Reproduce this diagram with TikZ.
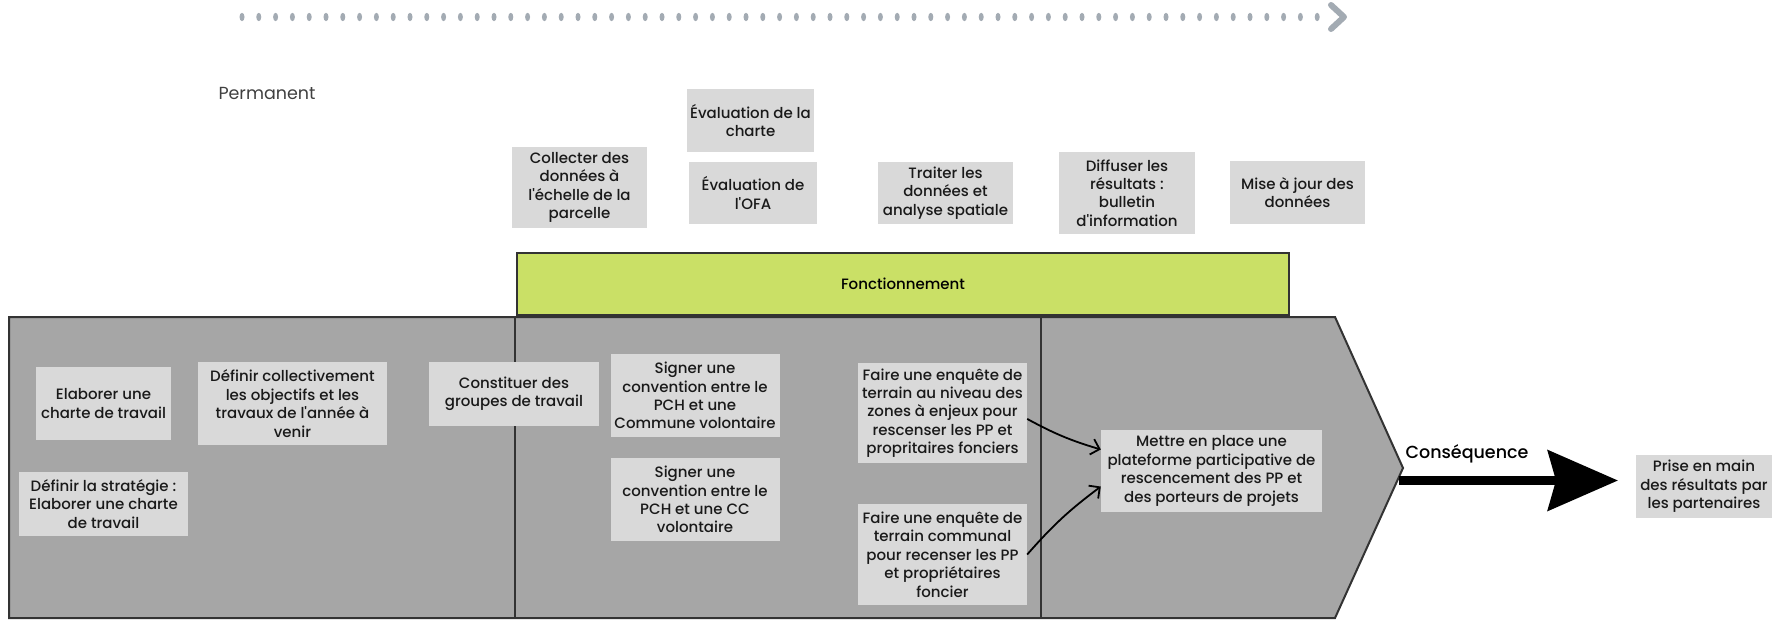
\documentclass[tikz,border=0pt]{standalone}
\usepackage{fontspec}
\setmainfont{Poppins}
\newfontfamily\medfont{Poppins Medium}
\usetikzlibrary{arrows.meta}

\definecolor{boxgray}{HTML}{D9D9D9}
\definecolor{zonegray}{HTML}{A6A6A6}
\definecolor{fonctgreen}{HTML}{CAE066}
\definecolor{dotgray}{HTML}{A3ABB3}
\definecolor{edgegray}{HTML}{333333}

\tikzset{
  tache/.style={fill=boxgray, align=center, inner sep=0pt, text=black!90,
    font=\medfont\fontsize{15}{18.4}\selectfont},
  fleche/.style={-{Straight Barb[length=8pt,width=16pt]}, line width=1.8pt, black},
}

\begin{document}
\begin{tikzpicture}[x=1pt,y=-1pt]
	\useasboundingbox (0,0) rectangle (1772,620);
	% ligne du temps
	\foreach \i in {0,...,64}
		\fill[dotgray] (242+\i*16.8,17) ellipse [x radius=2.5pt, y radius=4.2pt];
	\draw[dotgray, line width=6pt, line cap=round, line join=round] (1331,5) -- (1344,17) -- (1331,29);
	\node (perm) at (267,93) [text=black!75, font=\fontsize{17.5}{20}\selectfont] {Permanent};

	% taches ponctuelles
	\node (charte) at (750.5,120.5) [tache, minimum width=127pt, minimum height=63pt] {Évaluation de la\\charte};
	\node (collecter) at (579.5,187.5) [tache, minimum width=135pt, minimum height=81pt] {Collecter des\\données à\\l'échelle de la\\parcelle};
	\node (ofa) at (753,193) [tache, minimum width=128pt, minimum height=62pt] {Évaluation de\\l'OFA};
	\node (traiter) at (945.5,193) [tache, minimum width=135pt, minimum height=62pt] {Traiter les\\données et\\analyse spatiale};
	\node (diffuser) at (1127,193) [tache, minimum width=136pt, minimum height=82pt] {Diffuser les\\résultats :\\bulletin\\d'information};
	\node (mise) at (1297.5,192.5) [tache, minimum width=135pt, minimum height=63pt] {Mise à jour des\\données};

	% fonctionnement
	\node (fonct) at (903,284) [draw=edgegray, line width=2pt, fill=fonctgreen, minimum width=772pt, minimum height=62pt, font=\medfont\fontsize{15}{18}\selectfont] {Fonctionnement};

	% phases
	\draw[fill=zonegray, draw=edgegray, line width=2pt, line join=miter]
		(9,317) -- (1335,317) -- (1403,468) -- (1335,618) -- (9,618) -- cycle;
	\draw[edgegray, line width=2pt] (515,317) -- (515,618);
	\draw[edgegray, line width=2pt] (1041,317) -- (1041,618);

	\node (elab) at (103.5,403.5) [tache, minimum width=135pt, minimum height=73pt] {Elaborer une\\charte de travail};
	\node (defcoll) at (292.5,403.5) [tache, minimum width=189pt, minimum height=83pt] {Définir collectivement\\les objectifs et les\\travaux de l'année à\\venir};
	\node (defstrat) at (103.5,504) [tache, minimum width=169pt, minimum height=64pt] {Définir la stratégie :\\Elaborer une charte\\de travail};
	\node (constit) at (514,394) [tache, minimum width=170pt, minimum height=64pt] {Constituer des\\groupes de travail};
	\node (signcom) at (695,395.5) [tache, minimum width=169pt, minimum height=83pt] {Signer une\\convention entre le\\PCH et une\\Commune volontaire};
	\node (signcc) at (695,499.5) [tache, minimum width=169pt, minimum height=83pt] {Signer une\\convention entre le\\PCH et une CC\\volontaire};
	\node (zones) at (942.5,413) [tache, minimum width=169pt, minimum height=100pt] {Faire une enquête de\\terrain au niveau des\\zones à enjeux pour\\rescenser les PP et\\propritaires fonciers};
	\node (communal) at (942.5,554.5) [tache, minimum width=169pt, minimum height=101pt] {Faire une enquête de\\terrain communal\\pour recenser les PP\\et propriétaires\\foncier};
	\node (mettre) at (1211.5,471) [tache, minimum width=221pt, minimum height=82pt] {Mettre en place une\\plateforme participative de\\rescencement des PP et\\des porteurs de projets};

	\draw[fleche] (zones.356) to[bend right=6] (mettre.169);
	\draw[fleche] (communal.east) to[bend left=6] (mettre.188);

	% consequence
	\coordinate (pointe) at (1399,480.5);
	\coordinate (cible) at (1618,480.5);
	\draw[line width=9pt, -{Stealth[length=70pt,width=60pt,inset=8pt]}] (pointe) -- (cible);
	\node (csq) at (1467,454) [font=\medfont\fontsize{17.5}{20}\selectfont] {Conséquence};
	\node (prise) at (1704,486.5) [tache, minimum width=136pt, minimum height=63pt] {Prise en main\\des résultats par\\les partenaires};
\end{tikzpicture}
\end{document}
